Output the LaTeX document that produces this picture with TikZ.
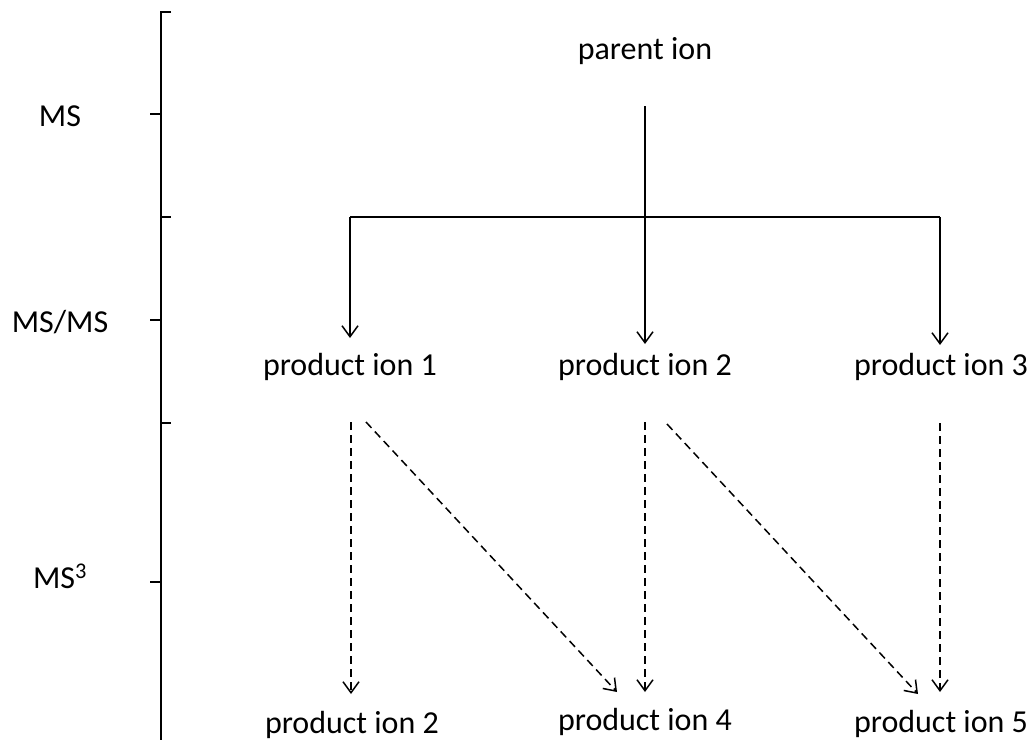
\documentclass[tikz,border=0pt]{standalone}
\usepackage{fontspec}
\setmainfont{Carlito}
\usetikzlibrary{arrows.meta}
\begin{document}
\begin{tikzpicture}[x=1pt,y=-1pt,
  lbl/.style={inner sep=0pt,anchor=base,font=\fontsize{32}{38}\selectfont},
  solidarrow/.style={line width=1.5pt,-{Straight Barb[length=11pt,width=16pt,line width=1.5pt]}},
  dasharrow/.style={line width=1.5pt,dash pattern=on 8pt off 5pt,-{Straight Barb[length=11pt,width=16pt,line width=1.5pt]}},
  brace/.style={line width=1.5pt}]
\useasboundingbox (0,0) rectangle (1034,740);

% level labels
\node[lbl] (ms1) at (60,126) {MS};
\node[lbl] (ms2) at (60,332) {MS/MS};
\node[lbl] (ms3) at (60,588) {MS\textsuperscript{3}};

% bracket
\draw[brace] (171,12) -- (161,12) -- (161,740);
\draw[brace] (150,114) -- (161,114);
\draw[brace] (161,217) -- (171,217);
\draw[brace] (150,320) -- (161,320);
\draw[brace] (161,423) -- (171,423);
\draw[brace] (150,582) -- (161,582);

% nodes
\node[lbl] (parent) at (645,59) {parent ion};
\node[lbl] (p1) at (350,375) {product ion 1};
\node[lbl] (p2) at (645,375) {product ion 2};
\node[lbl] (p3) at (941,375) {product ion 3};
\node[lbl] (q2) at (352,733) {product ion 2};
\node[lbl] (q4) at (645,730) {product ion 4};
\node[lbl] (q5) at (941,732) {product ion 5};

% coordinates for connectors
\coordinate (ptop) at (645,106);
\coordinate (hl) at (350,217);
\coordinate (hr) at (940,217);
\coordinate (t1) at (350,338);
\coordinate (t2) at (645,344);
\coordinate (t3) at (940,345);

\coordinate (s1) at (351,422);
\coordinate (e1) at (351,694);
\coordinate (s1d) at (366,422);
\coordinate (e1d) at (617,692);
\coordinate (s2) at (645,422);
\coordinate (e2) at (645,692);
\coordinate (s2d) at (667,424);
\coordinate (e2d) at (918,694);
\coordinate (s3) at (940,423);
\coordinate (e3) at (940,692);

% solid connectors
\draw[solidarrow] (ptop) -- (t2);
\draw[line width=1.5pt] (hl) -- (hr);
\draw[solidarrow] (hl) -- (t1);
\draw[solidarrow] (hr) -- (t3);

% dashed connectors
\draw[dasharrow] (s1) -- (e1);
\draw[dasharrow] (s1d) -- (e1d);
\draw[dasharrow] (s2) -- (e2);
\draw[dasharrow] (s2d) -- (e2d);
\draw[dasharrow] (s3) -- (e3);
\end{tikzpicture}
\end{document}
